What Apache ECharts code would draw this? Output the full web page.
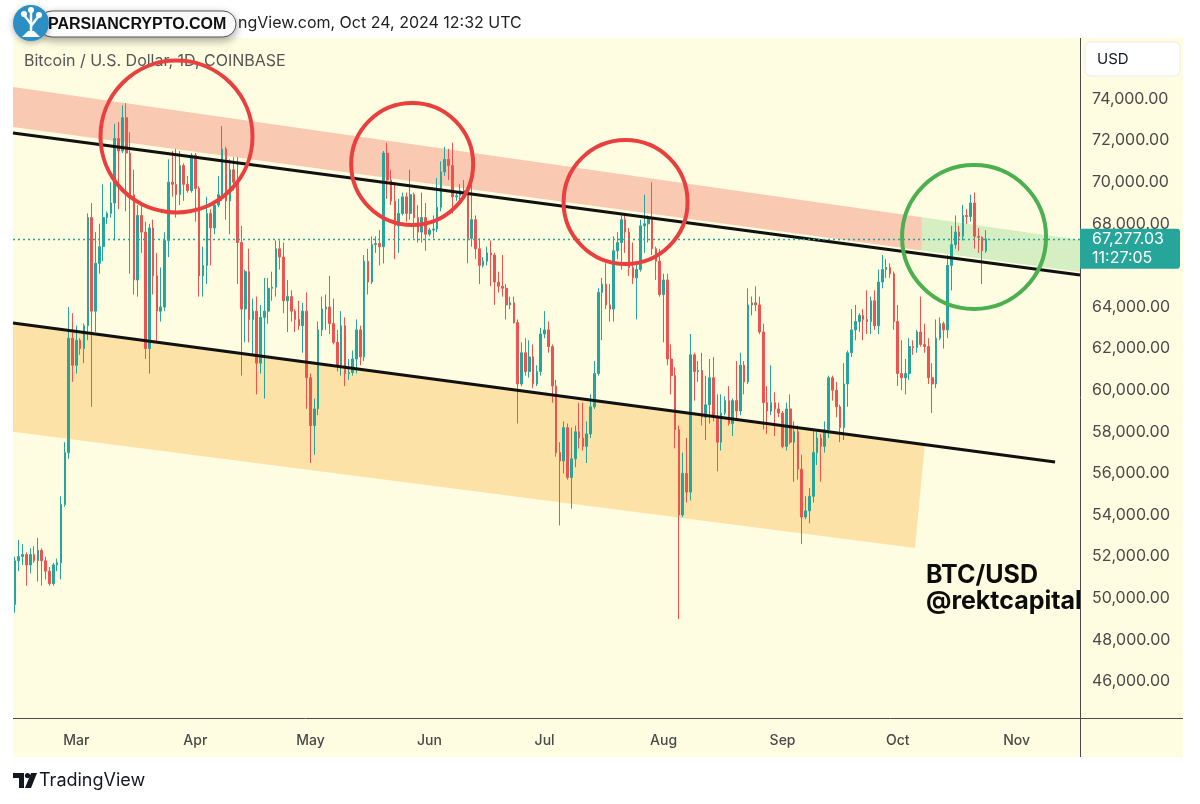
<!DOCTYPE html>
<html>
<head>
<meta charset="utf-8">
<script src="https://cdn.jsdelivr.net/npm/echarts@6/dist/echarts.min.js"></script>
<style>
html,body{margin:0;padding:0;background:#ffffff;}
#chart{width:1200px;height:804px;}
</style>
</head>
<body>
<div id="chart"></div>
<script>
// ---------------- DATA ----------------
const firstDay = '2024-02-14';   // first candle
const lastAxisDay = '2024-11-17'; // right end of the time axis
const monthNames = ['Jan','Feb','Mar','Apr','May','Jun','Jul','Aug','Sep','Oct','Nov','Dec'];
const priceTicks = [46000,48000,50000,52000,54000,56000,58000,60000,62000,64000,68000,70000,72000,74000]; // 66,000 sits under the live price tag
const liveCountdown = '11:27:05';

// daily candles  [open, high, low, close]
const feb = [
 [49700,52000,49300,51800],[51800,52800,51300,52000],[52000,52600,51600,52100],[52100,52200,50600,51600],
 [51600,52400,51200,52100],[52100,52500,51700,51800],[51800,52900,50800,52300],[52300,52400,50600,51800],
 [51800,52000,50900,51300],[51300,51500,50600,50700],[50700,51700,50600,51600],[51600,51900,51300,51700],
 [51700,54900,50900,54500],[54500,57500,54400,57000],[57000,64000,56700,62500],[62500,63700,60400,61200]
];
const mar = [
 [61200,63100,60800,62400],[62400,62500,61700,62000],[62000,63200,61300,63100],[63100,68500,62400,68300],
 [68300,69000,59200,63800],[63800,67600,62800,66100],[66100,68000,65600,66900],[66900,69900,66200,68300],
 [68300,68600,68000,68500],[68500,70000,68300,69000],[69000,72800,67200,72100],[72100,72900,68700,71500],
 [71500,73700,71400,73100],[73100,73800,68600,71400],[71400,72400,65600,69400],[69400,70600,64600,65300],
 [65300,68900,64500,68400],[68400,68900,66600,67600],[67600,68100,61500,62000],[62000,68000,60800,67800],
 [67800,68200,64600,65500],[65500,66600,62300,63800],[63800,65900,63300,64000],[64000,67600,63800,67200],
 [67200,71100,66400,70000],[70000,71500,69300,69900],[69900,71600,68300,69400],[69400,71500,68900,70800],
 [70800,70900,69100,69900],[69900,70300,69500,69600],[69600,71400,69500,71300]
];
const apr = [
 [71300,71400,68100,69700],[69700,69800,64500,65500],[65500,66900,64500,66000],[66000,69300,65100,68500],
 [68500,68700,66000,67800],[67800,69000,67500,68900],[68900,70300,68800,69400],[69400,72700,69100,71600],
 [71600,71700,68200,69100],[69100,71100,67500,70600],[70600,71200,69600,70000],[70000,71200,65100,67100],
 [67100,67900,60700,63900],[63900,65800,62300,65700],[65700,66800,62300,63400],[63400,64400,61700,63800],
 [63800,64500,59800,61300],[61300,64100,60800,63500],[63500,65400,59600,63800],[63800,65400,63200,64900],
 [64900,65700,64300,64950],[64950,67200,64500,66800],[66800,67200,65800,66400],[66400,67100,63700,64300],
 [64300,65300,62800,64500],[64500,64800,63300,63800],[63800,63900,62800,63400],[63400,64300,62900,63100],
 [63100,64200,61800,63800],[63800,64700,59100,60600]
];
const may = [
 [60600,60800,56500,58300],[58300,59600,56900,59100],[59100,63300,58800,62900],[62900,64500,62600,63900],
 [63900,64600,62900,64000],[64000,65500,62700,63200],[63200,64400,62200,62300],[62300,62900,60900,61200],
 [61200,63800,60700,63100],[63100,63500,60200,60800],[60800,61500,60500,60850],[60850,61900,60700,61500],
 [61500,63400,60800,62900],[62900,63100,61200,61600],[61600,66500,61400,66200],[66200,66800,64600,65200],
 [65200,67400,65100,67000],[67000,67400,66600,67050],[67050,67700,66000,66900],[66900,71500,66100,71400],
 [71400,71900,69200,70100],[70100,70600,68900,69100],[69100,70000,66300,67900],[67900,69200,66600,68500],
 [68500,69500,68400,69300],[69300,69500,68100,68500],[68500,70600,68200,69400],[69400,69500,67300,68300],
 [68300,68900,67100,67600],[67600,69500,67100,68300],[68300,69000,66700,67500]
];
const jun = [
 [67500,67800,67400,67700],[67700,68400,67300,67750],[67750,70200,67600,68800],[68800,71000,68600,70500],
 [70500,71700,70300,71100],[71100,71600,70100,70800],[70800,71900,68500,69300],[69300,69500,69100,69350],
 [69350,69900,69100,69600],[69600,70100,69200,69500],[69500,69600,66100,67300],[67300,69900,66900,68200],
 [68200,68400,66300,66800],[66800,67300,65100,66000],[66000,66400,65900,66200],[66200,66900,66000,66600],
 [66600,67200,65000,66500],[66500,66600,64100,65200],[65200,65700,64700,65000],[65000,66500,64500,64900],
 [64900,65100,63400,64100],[64100,64500,63900,64200],[64200,64500,63200,63250],[63250,63400,58400,60300],
 [60300,62300,60200,61800],[61800,62500,60700,60900],[60900,62400,60600,61600],[61600,62200,60100,60300],
 [60300,61200,60200,60900],[60900,63000,60700,62700]
];
const jul = [
 [62700,63800,62500,62900],[62900,63300,61800,62100],[62100,62200,59400,60200],[60200,60500,56800,57000],
 [57000,57500,53500,56600],[56600,58500,56000,58200],[58200,58400,55700,55800],[55800,58200,54300,56700],
 [56700,58300,56300,58000],[58000,59400,57200,57700],[57700,59400,57100,57300],[57300,58500,56500,57900],
 [57900,59800,57700,59200],[59200,61400,59100,60800],[60800,64900,60700,64700],[64700,65400,62400,65100],
 [65100,66100,63900,64100],[64100,65100,63300,63900],[63900,67400,63300,66700],[66700,67600,66300,67100],
 [67100,68400,65800,68200],[68200,68500,66600,67600],[67600,67800,65500,65900],[65900,67100,65100,65400],
 [65400,66100,63400,65800],[65800,68200,65700,67900],[67900,69400,66600,68000],[68000,68400,67100,68300],
 [68300,70000,66500,66800],[66800,66900,65300,66200],[66200,66800,64500,64600]
];
const aug = [
 [64600,65600,62300,65300],[65300,65600,61200,61500],[61500,62200,59800,60700],[60700,61100,57200,58100],
 [58100,58300,49000,54000],[54000,57000,53900,56000],[56000,57700,54600,55100],[55100,62700,54700,61700],
 [61700,61800,59500,60900],[60900,61400,60400,60950],[60950,61800,58300,58700],[58700,60700,57600,59300],
 [59300,61500,58400,60600],[60600,61600,58500,58700],[58700,59800,56100,57500],[57500,59800,57100,58900],
 [58900,59700,58800,59500],[59500,60200,58300,58400],[58400,59600,57800,59500],[59500,61400,58600,59000],
 [59000,61800,58800,61200],[61200,61400,59800,60400],[60400,64900,60300,64100],[64100,64500,63600,64200],
 [64200,65000,63800,64100],[64100,64500,62700,62800],[62800,63200,58100,59400],[59400,60200,57900,59000],
 [59000,61200,58800,59400],[59400,59900,57800,59100],[59100,59400,58700,58900]
];
const sep = [
 [58900,59000,57200,57300],[57300,59400,57100,59100],[59100,59800,57400,57500],[57500,58500,55600,58000],
 [58000,58300,55700,56200],[56200,56900,52600,53900],[53900,54900,53800,54200],[54200,55300,53600,54900],
 [54900,58100,54600,57000],[57000,58000,56400,57700],[57700,57900,55600,57300],[57300,58500,57000,58100],
 [58100,60700,57700,60600],[60600,60700,59500,60000],[60000,60400,58700,59200],[59200,59300,57500,58200],
 [58200,61300,57600,60300],[60300,61900,59200,61800],[61800,63900,61600,62900],[62900,64100,62400,63300],
 [63300,63700,62800,63600],[63600,63900,62400,63400],[63400,64800,62700,63300],[63300,64500,62700,64300],
 [64300,64800,62900,63100],[63100,65800,62700,65200],[65200,66500,64900,65800],[65800,66300,65400,65900],
 [65900,66100,65400,65600],[65600,65700,62900,63300]
];
const oct = [
 [63300,64100,60200,60800],[60800,62400,60000,60600],[60600,61500,59800,60800],[60800,62500,60500,62100],
 [62100,62400,61700,62050],[62050,62900,61800,62800],[62800,64500,62100,62200],[62200,63200,61800,62100],
 [62100,62500,60300,60600],[60600,61300,58900,60300],[60300,63400,60100,62500],[62500,63500,62400,63200],
 [63200,63300,62000,62900],[62900,66500,62500,66000],[66000,67900,64800,67000],[67000,68400,66800,67600],
 [67600,67900,66700,67400],[67400,68900,67200,68400],[68400,68700,68000,68350],[68350,69400,68100,69000],
 [69000,69500,66800,67400],[67400,67800,66600,67350],[67350,67400,65100,66700],[66700,67700,66600,67277.03]
];

// drawings, in (day number from first candle, price)
const resistanceBand = [[-0.5,74577],[236.3,68311],[236.3,66716],[-0.5,72654]];
const retestBand     = [[236.3,68311],[277.5,67221],[277.5,65683],[236.3,66716]];
const supportBand    = [[-0.5,63231],[237.1,57441],[234.5,52412],[-0.5,58004]];
const upperTrend = [[-0.5,72365],[277.5,65538]];
const lowerTrend = [[-0.5,63231],[271.0,56548]];
const rejectionCircles = [[42.1,72197],[103.5,70875],[159.1,69048]];
const retestCircle = [[249.9,67365]];

// ---------------- BUILD ----------------
const dayMs = 86400000;
const t0 = Date.UTC(2024,1,14);
const t1 = Date.UTC(2024,10,17);
const categories = [];
for (let t = t0; t <= t1; t += dayMs) {
  const d = new Date(t);
  categories.push(d.getUTCFullYear() + '-' + String(d.getUTCMonth()+1).padStart(2,'0') + '-' + String(d.getUTCDate()).padStart(2,'0'));
}
const candles = [].concat(feb, mar, apr, may, jun, jul, aug, sep, oct);
const candleData = candles.map(c => [c[0], c[3], c[2], c[1]]); // echarts: open, close, low, high
const lastPrice = candles[candles.length-1][3];
const nCat = categories.length;

const UP = '#26a69a', DOWN = '#ef5350';
const BG = '#fefde1';
const FONT = 'Inter, "Noto Sans", sans-serif';
const zoneStyles = [
  {pts: resistanceBand, fill: '#f9c9b2'},
  {pts: retestBand, fill: '#d5eec2'},
  {pts: supportBand, fill: '#fde2a8'}
];
const circleList = rejectionCircles.map(c => ({c, r: 76, color: '#e9403f'}));
circleList[1].r = 61; circleList[2].r = 62;
retestCircle.forEach(c => circleList.push({c, r: 72, color: '#4caf50'}));

function fmtPrice(v) {
  return v.toLocaleString('en-US', {minimumFractionDigits: 2, maximumFractionDigits: 2});
}

const chart = echarts.init(document.getElementById('chart'), null, {renderer: 'canvas'});

const baseGraphics = [
  {type:'rect', id:'bg', z:-10, silent:true, shape:{x:13, y:38, width:1170, height:719}, style:{fill:BG}},
  // watermark / header
  {type:'text', id:'hdr', z:20, style:{text:'ngView.com, Oct 24, 2024 12:32 UTC', x:238, y:23, fill:'#222', fontSize:16, fontFamily:FONT, verticalAlign:'middle'}},
  {type:'rect', id:'wmBox', z:21, shape:{x:39, y:11, width:197, height:26, r:13}, style:{fill:'#ffffff', stroke:'#555', lineWidth:1, shadowBlur:8, shadowColor:'rgba(0,0,0,0.35)', shadowOffsetY:3}},
  {type:'text', id:'wmText', z:22, style:{text:'PARSIANCRYPTO.COM', x:48, y:25, fill:'#111', fontSize:16, fontWeight:'bold', fontFamily:'"Liberation Sans", Arial, sans-serif', verticalAlign:'middle'}},
  {type:'circle', id:'wmLogo', z:23, shape:{cx:31, cy:23, r:18}, style:{fill:'#2c8fc4', shadowBlur:6, shadowColor:'rgba(0,0,0,0.3)', shadowOffsetY:2}},
  {type:'polyline', id:'wmIcon1', z:24, shape:{points:[[31,37],[31,24],[24,15]]}, style:{stroke:'#fff', lineWidth:2.5, fill:null}},
  {type:'polyline', id:'wmIcon2', z:24, shape:{points:[[31,26],[38,17]]}, style:{stroke:'#fff', lineWidth:2.5, fill:null}},
  {type:'polyline', id:'wmIcon3', z:24, shape:{points:[[31,24],[31,12]]}, style:{stroke:'#fff', lineWidth:2.5, fill:null}},
  {type:'circle', id:'wmDot1', z:24, shape:{cx:24, cy:14, r:3}, style:{fill:'#fff'}},
  {type:'circle', id:'wmDot2', z:24, shape:{cx:31, cy:10, r:3}, style:{fill:'#fff'}},
  {type:'circle', id:'wmDot3', z:24, shape:{cx:39, cy:15, r:3}, style:{fill:'#fff'}},
  {type:'polygon', id:'wmBase', z:24, shape:{points:[[22,37],[40,37],[34,31],[28,31]]}, style:{fill:'#fff'}},
  {type:'text', id:'sub', z:5, style:{text:'Bitcoin / U.S. Dollar, 1D, COINBASE', x:24, y:61, fill:'#555', fontSize:16, fontFamily:FONT, verticalAlign:'middle'}},
  // author tag
  {type:'text', id:'tag1', z:1, style:{text:'BTC/USD', x:926, y:575, fill:'#0c0c0c', fontSize:25, fontWeight:'bold', fontFamily:FONT, verticalAlign:'middle'}},
  {type:'text', id:'tag2', z:1, style:{text:'@rektcapital', x:926, y:601, fill:'#0c0c0c', fontSize:25, fontWeight:'bold', fontFamily:FONT, verticalAlign:'middle'}},
  // price scale panel (covers overflow)
  {type:'rect', id:'scalePanel', z:6, silent:true, shape:{x:1081, y:38, width:102, height:680}, style:{fill:BG}},
  {type:'line', id:'sepV', z:7, shape:{x1:1080.5, y1:38, x2:1080.5, y2:757}, style:{stroke:'#4a4a4a', lineWidth:1}},
  {type:'line', id:'sepH', z:7, shape:{x1:13, y1:718.5, x2:1183, y2:718.5}, style:{stroke:'#4a4a4a', lineWidth:1}},
  {type:'rect', id:'usdBox', z:12, shape:{x:1085, y:42, width:95, height:34, r:6}, style:{fill:'#ffffff', stroke:'#ececec', lineWidth:1}},
  {type:'text', id:'usdText', z:13, style:{text:'USD', x:1097, y:59, fill:'#131722', fontSize:15, fontFamily:FONT, verticalAlign:'middle'}},
  // footer logo
  {type:'polygon', id:'tvT', z:5, shape:{points:[[13,773],[24,773],[24,788],[19,788],[19,778],[13,778]]}, style:{fill:'#131722'}},
  {type:'circle', id:'tvDot', z:5, shape:{cx:27.5, cy:775.6, r:2.6}, style:{fill:'#131722'}},
  {type:'polygon', id:'tvV', z:5, shape:{points:[[31,773],[37,773],[31,788],[25,788]]}, style:{fill:'#131722'}},
  {type:'text', id:'tvText', z:5, style:{text:'TradingView', x:39, y:781, fill:'#131722', fontSize:18, fontFamily:FONT, verticalAlign:'middle'}}
];

const option = {
  animation: false,
  backgroundColor: 'transparent',
  grid: {left: 13, right: 120, top: 36.6, bottom: 81, containLabel: false},
  xAxis: [
    {
      type: 'category', data: categories, boundaryGap: true, gridIndex: 0,
      axisLine: {show: false}, axisTick: {show: false}, splitLine: {show: false},
      axisLabel: {
        interval: (idx, val) => val.slice(8) === '01',
        formatter: val => monthNames[parseInt(val.slice(5,7),10)-1],
        color: '#4a4a4a', fontSize: 14, fontWeight: 500, fontFamily: FONT, margin: 11
      }
    },
    {type: 'value', show: false, min: -0.5, max: nCat - 0.5, gridIndex: 0}
  ],
  yAxis: [{
    type: 'value', position: 'right', min: 44000, max: 77000, interval: 2000, z: 10,
    axisLine: {show: false}, axisTick: {show: false}, splitLine: {show: false},
    axisLabel: {
      formatter: v => priceTicks.indexOf(v) >= 0 ? fmtPrice(v) : '',
      color: '#4a4a4a', fontSize: 16, fontFamily: FONT, margin: 12
    }
  }],
  series: [
    {
      type: 'custom', name: 'zones', xAxisIndex: 1, yAxisIndex: 0, z: 1, silent: true,
      data: zoneStyles.map(z => z.pts[0]),
      renderItem: (params, api) => {
        const z = zoneStyles[params.dataIndex];
        return {type: 'polygon', shape: {points: z.pts.map(p => api.coord(p))}, style: {fill: z.fill}};
      }
    },
    {
      type: 'candlestick', name: 'BTCUSD', xAxisIndex: 0, yAxisIndex: 0, z: 3,
      data: candleData, barWidth: '55%',
      itemStyle: {color: UP, color0: DOWN, borderColor: UP, borderColor0: DOWN, borderWidth: 1},
      markLine: {
        silent: true, symbol: ['none','none'], animation: false,
        label: {show: false},
        lineStyle: {color: UP, type: [2, 3], width: 1.3, opacity: 1},
        data: [{yAxis: lastPrice}]
      }
    },
    {
      type: 'custom', name: 'trendlines', xAxisIndex: 1, yAxisIndex: 0, z: 4, silent: true,
      data: [upperTrend[0], lowerTrend[0]],
      renderItem: (params, api) => {
        const ln = params.dataIndex === 0 ? upperTrend : lowerTrend;
        const a = api.coord(ln[0]), b = api.coord(ln[1]);
        return {type: 'line', shape: {x1: a[0], y1: a[1], x2: b[0], y2: b[1]}, style: {stroke: '#111', lineWidth: 3}};
      }
    },
    {
      type: 'custom', name: 'circles', xAxisIndex: 1, yAxisIndex: 0, z: 5, silent: true,
      data: circleList.map(c => c.c),
      renderItem: (params, api) => {
        const c = circleList[params.dataIndex];
        const p = api.coord([api.value(0), api.value(1)]);
        return {type: 'circle', shape: {cx: p[0], cy: p[1], r: c.r}, style: {fill: 'none', stroke: c.color, lineWidth: 4}};
      }
    }
  ],
  graphic: {elements: baseGraphics}
};

chart.setOption(option);

// live price tag on the price scale
const py = chart.convertToPixel({yAxisIndex: 0}, lastPrice);
const tag = [
  {type:'rect', id:'pxBox', z:14, shape:{x:1080, y:py-10, width:100, height:40, r:[0,3,3,0]}, style:{fill:UP}},
  {type:'text', id:'pxText', z:15, style:{text:fmtPrice(lastPrice), x:1092, y:py, fill:'#ffffff', fontSize:16, fontFamily:FONT, verticalAlign:'middle'}},
  {type:'text', id:'pxTime', z:15, style:{text:liveCountdown, x:1092, y:py+19.5, fill:'#ffffff', fontSize:16, fontFamily:FONT, verticalAlign:'middle'}}
];
chart.setOption({graphic: {elements: baseGraphics.concat(tag)}});
</script>
</body>
</html>
